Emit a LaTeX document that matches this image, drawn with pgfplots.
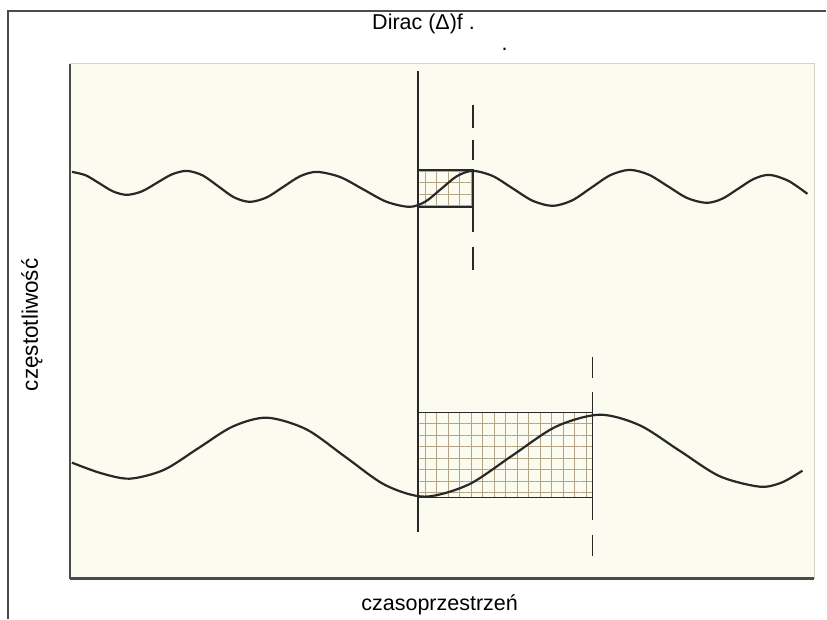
\documentclass[border=0pt]{standalone}
\usepackage{pgfplots}
\pgfplotsset{compat=1.18}
\usepackage{fontspec}
\setmainfont{Liberation Sans}
\usetikzlibrary{patterns.meta}
\definecolor{ink}{RGB}{40,40,40}
\definecolor{paper}{RGB}{252,251,240}
\definecolor{gridc}{RGB}{180,165,135}
\definecolor{edge}{RGB}{75,75,75}
\definecolor{faint}{RGB}{215,210,195}
\begin{document}
\begin{tikzpicture}
\begin{axis}[
  scale only axis, width=745pt, height=515pt,
  xmin=70, xmax=815, ymin=40, ymax=555,
  axis x line*=bottom, axis y line*=left,
  axis line style={line width=2.5pt, draw=edge},
  axis background/.style={fill=paper},
  xtick=\empty, ytick=\empty,
  clip=false,
  title={Dirac (Δ)f .},
  title style={at={(rel axis cs:0.475,1.066)}, anchor=center, yshift=0pt, font=\fontsize{21.5}{24}\selectfont},
  xlabel={czasoprzestrzeń},
  xlabel style={at={(rel axis cs:0.4966,-0.0505)}, anchor=center, font=\fontsize{21.5}{24}\selectfont},
  ylabel={częstotliwość},
  ylabel style={at={(rel axis cs:-0.051,0.493)}, anchor=center, font=\fontsize{22.5}{25}\selectfont},
]
% bounding box of the whole image and outer frame
\path (axis cs:0,0) rectangle (axis cs:827,619);
\draw[line width=1.2pt, draw=edge] (axis cs:827,608) -- (axis cs:8,608) -- (axis cs:8,0);
\draw[line width=1pt, draw=faint] (axis cs:70,555) -- (axis cs:815,555) -- (axis cs:815,40);
\node[font=\fontsize{21.5}{24}\selectfont] at (axis cs:505,570) {.};

% hatched boxes
\addplot[draw=ink, line width=1.5pt, pattern={Hatch[angle=0,distance=11.5pt,line width=0.6pt]}, pattern color=gridc]
  coordinates {(418,412) (473,412) (473,449) (418,449)} -- cycle;
\addplot[draw=ink, line width=1.5pt, pattern={Hatch[angle=0,distance=11.5pt,line width=0.6pt]}, pattern color=gridc]
  coordinates {(418,121) (593,121) (593,206) (418,206)} -- cycle;

% solid vertical line
\addplot[ink, line width=1.8pt] coordinates {(418,548) (418,87)};
% dashed vertical lines (segments)
\addplot[ink, line width=1.8pt, unbounded coords=jump] coordinates {
 (473,514) (473,491) (473,nan) (473,479) (473,459) (473,nan)
 (473,450) (473,387) (473,nan) (473,372) (473,349)};
\addplot[ink, line width=1.8pt, unbounded coords=jump] coordinates {
 (593,262) (593,241) (593,nan) (593,227) (593,99) (593,nan)
 (593,84) (593,63)};

% upper wave
\addplot[ink, line width=2.2pt, smooth] coordinates {
 (72,447) (85.75,443.6) (99.5,435.5) (113.25,427.4) (127,424) (142,427.5)
 (157,436) (172,444.5) (187,448) (202.75,443.5) (218.5,432.5) (234.25,421.5)
 (250,417) (266.75,421.4) (283.5,432) (300.25,442.6) (317,447) (340.25,441.9)
 (363.5,429.5) (386.75,417.1) (410,412) (425.75,417.3) (441.5,430) (457.25,442.7)
 (473,448) (493,442.9) (513,430.5) (533,418.1) (553,413) (572.25,418.3)
 (591.5,431) (610.75,443.7) (630,449) (649.25,444.2) (668.5,432.5) (687.75,420.8)
 (707,416) (722.75,420.1) (738.5,430) (754.25,439.9) (770,444) (789,438) (808,425)};
% lower wave
\addplot[ink, line width=2.2pt, smooth] coordinates {
 (72,156) (101,145.5) (130,140) (164.25,148.9) (198.5,170.5) (232.75,192.1)
 (267,201) (306.5,189.4) (346,161.5) (385.5,133.6) (425,122) (468.75,134)
 (512.5,163) (556.25,192) (600,204) (640,193.5) (680,168) (720,142.5)
 (760,132) (782,136) (803,148)};
\end{axis}
\end{tikzpicture}
\end{document}
